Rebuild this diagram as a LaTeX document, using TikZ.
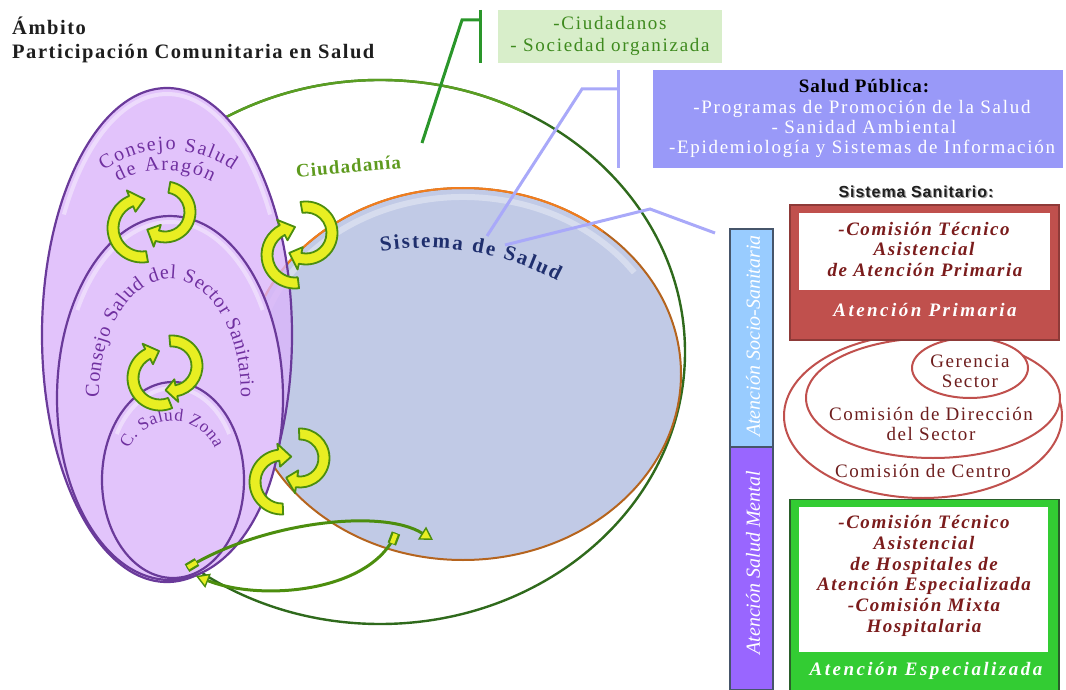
\documentclass[tikz,border=0pt]{standalone}
\usepackage{fontspec}
\setmainfont{Liberation Serif}
\newfontfamily\sanslabel{Liberation Sans}
\usetikzlibrary{decorations.text,arrows.meta}

\definecolor{titleink}{HTML}{1E1E1E}
\definecolor{citizenline}{HTML}{5A9E22}
\definecolor{citizenlinedark}{HTML}{2F6A1C}
\definecolor{citizentext}{HTML}{5E9A1E}
\definecolor{calloutgreen}{HTML}{2A962A}
\definecolor{calloutfill}{HTML}{D8EECA}
\definecolor{calloutink}{HTML}{3E8A1E}
\definecolor{publicfill}{HTML}{9999F8}
\definecolor{publicline}{HTML}{A9A9F9}
\definecolor{healthfill}{HTML}{C1CAE6}
\definecolor{healthorange}{HTML}{F07D1E}
\definecolor{healthbrown}{HTML}{B5641E}
\definecolor{navyink}{HTML}{1F2F6E}
\definecolor{councilfill}{HTML}{DBB5FA}
\definecolor{councilsolid}{HTML}{E2C4FB}
\definecolor{councilline}{HTML}{6A3A9A}
\definecolor{councilink}{HTML}{7030A0}
\definecolor{arrowgreen}{HTML}{4C8E0E}
\definecolor{arrowyellow}{HTML}{E8EE22}
\definecolor{sociofill}{HTML}{99CCFF}
\definecolor{mentalfill}{HTML}{9966FF}
\definecolor{barline}{HTML}{46556A}
\definecolor{primfill}{HTML}{C0504D}
\definecolor{primline}{HTML}{8E3A38}
\definecolor{espfill}{HTML}{33CC33}
\definecolor{espline}{HTML}{2A5E2A}
\definecolor{boxink}{HTML}{7B1C1C}
\definecolor{ringred}{HTML}{C0504D}
\definecolor{ringink}{HTML}{6E1E1E}

% curved block arrow: centre, radius, start angle, end angle, tip angle
\newcommand\cyclearrow[5]{%
  \filldraw[cycarrow] ([shift={#1}]#3:{#2+5.5}) arc[start angle=#3, end angle=#4, radius={#2+5.5}]
    -- ([shift={#1}]#4:{#2+11.5}) -- ([shift={#1}]#5:{#2}) -- ([shift={#1}]#4:{#2-11.5})
    -- ([shift={#1}]#4:{#2-5.5}) arc[start angle=#4, end angle=#3, radius={#2-5.5}] -- cycle;}

\newcommand\councilfont{\fontsize{20}{20}\selectfont\color{councilink}}
\newcommand\zonefont{\fontsize{17.5}{17.5}\selectfont\color{councilink}}
\newcommand\healthfont{\fontsize{21}{21}\selectfont\bfseries\color{navyink}}

\begin{document}
\begin{tikzpicture}[x=1pt, y=-1pt,
  titletext/.style={inner sep=0, anchor=base west, text=titleink,
    font=\fontsize{20.5}{24}\selectfont\bfseries\addfontfeatures{LetterSpace=7.5}},
  spaced/.style={inner sep=0, anchor=base, font=\fontsize{19}{21}\selectfont\addfontfeatures{LetterSpace=9}},
  boxitalic/.style={inner sep=0, anchor=base, text=boxink,
    font=\fontsize{19}{21}\selectfont\bfseries\itshape\addfontfeatures{LetterSpace=8}},
  bandtext/.style={inner sep=0, anchor=base, text=white,
    font=\fontsize{19}{21}\selectfont\bfseries\itshape\addfontfeatures{LetterSpace=13}},
  ringtext/.style={inner sep=0, anchor=base, text=ringink,
    font=\fontsize{19}{21}\selectfont\addfontfeatures{LetterSpace=8}},
  bartext/.style={inner sep=0, text=white, rotate=90, font=\fontsize{20}{22}\selectfont\itshape},
  cycarrow/.style={fill=arrowyellow, draw=arrowgreen, line width=1.8pt, line join=round},
  council/.style={draw=councilline, line width=2.2pt},
  ring/.style={draw=ringred, fill=white, line width=2pt},
  calloutG/.style={draw=calloutgreen, line width=3pt},
  calloutB/.style={draw=publicline, line width=3pt},
  longarrow/.style={draw=arrowgreen, line width=3pt,
    -{Triangle[length=13pt, width=15pt, fill=arrowyellow, line width=1.4pt]}},
  archtext/.style={decorate, decoration={text along path, text align={fit to path}, text={#1}}}
]
\useasboundingbox (0,0) rectangle (1066,690);

% ---------- title ----------
\node[titletext] (ambito) at (12,35) {Ámbito};
\node[titletext] (pcs) at (12,59) {Participación Comunitaria en Salud};

% ---------- citizenship ring ----------
\draw[citizenlinedark, line width=2.4pt] (380,352) ellipse [x radius=305, y radius=272];
\draw[citizenline, line width=2.4pt] ([shift={(380,352)}]-150:305 and 272)
  arc[start angle=-150, end angle=-62, x radius=305, y radius=272];

% mask under the regional council
\fill[white] (167,335) ellipse [x radius=125, y radius=247];

% ---------- health system ----------
\fill[healthfill] (463,374) ellipse [x radius=218, y radius=186];
\draw[white, opacity=.35, line width=6pt] ([shift={(463,374)}]-165:209 and 177)
  arc[start angle=-165, end angle=-35, x radius=209, y radius=177];
\draw[healthbrown, line width=2pt] (463,374) ellipse [x radius=218, y radius=186];
\draw[healthorange, line width=2pt] ([shift={(463,374)}]-200:218 and 186)
  arc[start angle=-200, end angle=-50, x radius=218, y radius=186];

% ---------- councils ----------
\filldraw[council, fill=councilfill, fill opacity=.8] (167,335) ellipse [x radius=125, y radius=247];
\draw[white, opacity=.4, line width=4pt] ([shift={(167,335)}]-150:119 and 241)
  arc[start angle=-150, end angle=-30, x radius=119, y radius=241];
\filldraw[council, fill=councilsolid] (170,398) ellipse [x radius=113, y radius=182];
\draw[white, opacity=.4, line width=4pt] ([shift={(170,398)}]-150:107 and 176)
  arc[start angle=-150, end angle=-30, x radius=107, y radius=176];
\filldraw[council, fill=councilsolid] (173,480) ellipse [x radius=71, y radius=98];
\draw[white, opacity=.4, line width=4pt] ([shift={(173,480)}]-150:65 and 92)
  arc[start angle=-150, end angle=-30, x radius=65, y radius=92];

% curved council names
\path[archtext={|\councilfont|Consejo Salud}] ([shift={(168,262)}]-125:112)
  arc[start angle=-125, end angle=-55, radius=112];
\path[archtext={|\councilfont|de Aragón}] ([shift={(165,270)}]-118:100)
  arc[start angle=-118, end angle=-62, radius=100];
\path[archtext={|\councilfont|Consejo Salud del Sector Sanitario}] ([shift={(170,395)}]-181:71 and 116)
  arc[start angle=-181, end angle=1, x radius=71, y radius=116];
\path[archtext={|\zonefont|C. Salud Zona}] ([shift={(172,468)}]-156:47)
  arc[start angle=-156, end angle=-24, radius=47];
\path[archtext={|\healthfont|Sistema de Salud}] ([shift={(425,530)}]-99:282)
  arc[start angle=-99, end angle=-62, radius=282];

\node[inner sep=0, anchor=base, rotate=5, text=citizentext,
  font=\fontsize{19}{19}\selectfont\bfseries\addfontfeatures{LetterSpace=6}] (ciud) at (349,173) {Ciudadanía};

% ---------- exchange arrows ----------
\cyclearrow{(165,212)}{25}{-80}{108}{135}
\cyclearrow{(142,228)}{29}{80}{248}{275}
\cyclearrow{(172,366)}{25}{-95}{80}{105}
\cyclearrow{(160,378)}{27}{68}{243}{268}
\cyclearrow{(306,233)}{26}{-100}{103}{130}
\cyclearrow{(295,255)}{28}{83}{243}{270}
\cyclearrow{(300,458)}{24}{-92}{98}{125}
\cyclearrow{(282,482)}{27}{88}{263}{290}

\coordinate (uTail) at (187,568);
\coordinate (uHead) at (433,540);
\coordinate (lTail) at (396,533);
\coordinate (lHead) at (196,576);
\draw[longarrow] (uTail) .. controls (262,522) and (382,508) .. (uHead);
\draw[longarrow] (lTail) .. controls (372,592) and (262,602) .. (lHead);
\draw[arrowgreen, line width=9pt] (uTail) -- ++(10,-6);
\draw[arrowyellow, line width=4.5pt] ([shift={(1,-0.6)}]uTail) -- ++(8.3,-5);
\draw[arrowgreen, line width=9pt] (lTail) -- ++(-4.2,11);
\draw[arrowyellow, line width=4.5pt] ([shift={(-0.4,1)}]lTail) -- ++(-3.5,9.2);

% ---------- citizens callout ----------
\node[fill=calloutfill, minimum width=224pt, minimum height=53pt, inner sep=0] (citbox) at (610,36.5) {};
\node[spaced, text=calloutink] (cit1) at (610,30) {-Ciudadanos};
\node[spaced, text=calloutink] (cit2) at (610,52) {- Sociedad organizada};
\coordinate (gTop) at (480,10);
\coordinate (gBot) at (480,63);
\coordinate (gJoin) at (480,20);
\coordinate (gKnee) at (462,20);
\coordinate (gEnd) at (422,143);
\draw[calloutG] (gTop) -- (gBot);
\draw[calloutG] (gJoin) -- (gKnee) -- (gEnd);

% ---------- public health callout ----------
\node[fill=publicfill, minimum width=410pt, minimum height=98pt, inner sep=0] (publicbox) at (858,119) {};
\node[spaced, font=\fontsize{19}{21}\selectfont\bfseries\addfontfeatures{LetterSpace=5}] (sp1) at (864,93) {Salud Pública:};
\node[spaced, text=white] (sp2) at (862,114) {-Programas de Promoción de la Salud};
\node[spaced, text=white] (sp3) at (864,134) {- Sanidad Ambiental};
\node[spaced, text=white] (sp4) at (862,154) {-Epidemiología y Sistemas de Información};
\coordinate (bTop) at (618,70);
\coordinate (bBot) at (618,168);
\coordinate (bJoin) at (618,89);
\coordinate (bKnee) at (582,89);
\coordinate (bEnd) at (487,236);
\draw[calloutB] (bTop) -- (bBot);
\draw[calloutB] (bJoin) -- (bKnee) -- (bEnd);
\coordinate (sStart) at (505,245);
\coordinate (sKnee) at (650,209);
\coordinate (sEnd) at (715,233);
\draw[calloutB] (sStart) -- (sKnee) -- (sEnd);

% ---------- health care system panel ----------
\node[inner sep=0, anchor=base, text=black!35,
  font=\fontsize{16}{18}\sanslabel\bfseries\addfontfeatures{LetterSpace=6}] (sanshadow) at (917.2,198.2) {Sistema Sanitario:};
\node[inner sep=0, anchor=base, text=black!88,
  font=\fontsize{16}{18}\sanslabel\bfseries\addfontfeatures{LetterSpace=6}] (sanlabel) at (916,197) {Sistema Sanitario:};

\node[fill=sociofill, draw=barline, line width=1.5pt, minimum width=43pt, minimum height=218pt, inner sep=0] (sociobar) at (751.5,338) {};
\node[fill=mentalfill, draw=barline, line width=1.5pt, minimum width=43pt, minimum height=243pt, inner sep=0] (mentalbar) at (751.5,568.5) {};
\node[bartext] (sociotext) at (753,336) {Atención Socio-Sanitaria};
\node[bartext] (mentaltext) at (753,563) {Atención Salud Mental};

% management rings
\draw[ring] (923,416) ellipse [x radius=139, y radius=82];
\draw[ring] (933,398) ellipse [x radius=127, y radius=60];
\draw[ring] (970,368) ellipse [x radius=58, y radius=30];
\node[ringtext] (ger1) at (970,367) {Gerencia};
\node[ringtext] (ger2) at (970,387) {Sector};
\node[ringtext] (dir1) at (931,420) {Comisión de Dirección};
\node[ringtext] (dir2) at (931,440) {del Sector};
\node[ringtext] (centro) at (923,477) {Comisión de Centro};

% primary care
\node[fill=primfill, draw=primline, line width=1.5pt, minimum width=269pt, minimum height=135pt, inner sep=0] (primary) at (924.5,272.5) {};
\node[fill=white, minimum width=251pt, minimum height=77pt, inner sep=0] (primaryinner) at (924.5,251.5) {};
\node[boxitalic] (pr1) at (924,235) {-Comisión Técnico};
\node[boxitalic] (pr2) at (924,255) {Asistencial};
\node[boxitalic] (pr3) at (925,276) {de Atención Primaria};
\node[bandtext] (prband) at (925,316) {Atención Primaria};

% specialised care
\node[fill=espfill, draw=espline, line width=1.5pt, minimum width=269pt, minimum height=191pt, inner sep=0] (special) at (924.5,595) {};
\node[fill=white, minimum width=249pt, minimum height=145pt, inner sep=0] (specialinner) at (923.5,579.5) {};
\node[boxitalic] (es1) at (924,528) {-Comisión Técnico};
\node[boxitalic] (es2) at (924,549) {Asistencial};
\node[boxitalic] (es3) at (924,570) {de Hospitales de};
\node[boxitalic] (es4) at (924,590) {Atención Especializada};
\node[boxitalic] (es5) at (924,611) {-Comisión Mixta};
\node[boxitalic] (es6) at (924,632) {Hospitalaria};
\node[bandtext] (esband) at (926,675) {Atención Especializada};

\end{tikzpicture}
\end{document}
